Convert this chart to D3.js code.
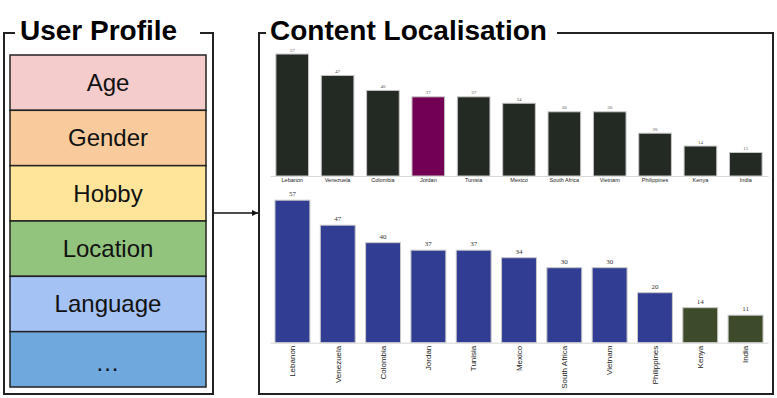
<!DOCTYPE html>
<html>
<head>
<meta charset="utf-8">
<script src="https://cdn.jsdelivr.net/npm/d3@7"></script>
<style>
  body { margin: 0; background: #fff; }
  svg { display: block; font-family: "Liberation Sans", Arial, sans-serif; }
</style>
</head>
<body>
<div id="viz"></div>
<script>
// data
var profileItems = ["Age", "Gender", "Hobby", "Location", "Language", "..."];
var profileColors = ["#f4cccc", "#f9cb9c", "#ffe599", "#93c47d", "#a4c2f4", "#6fa8dc"];

var countries = ["Lebanon", "Venezuela", "Colombia", "Jordan", "Tunisia", "Mexico",
                 "South Africa", "Vietnam", "Philippines", "Kenya", "India"];
var topValues = [57, 47, 40, 37, 37, 34, 30, 30, 20, 14, 11];
var bottomValues = [57, 47, 40, 37, 37, 34, 30, 30, 20, 14, 11];
var topGroup = ["a", "a", "a", "b", "a", "a", "a", "a", "a", "a", "a"];
var bottomGroup = ["a", "a", "a", "a", "a", "a", "a", "a", "a", "b", "b"];

var w = 777, h = 398;

var svg = d3.select("#viz").append("svg")
  .attr("width", w)
  .attr("height", h);

// arrowhead
svg.append("defs").append("marker")
  .attr("id", "arrow")
  .attr("viewBox", "0 0 10 10")
  .attr("refX", 10).attr("refY", 5)
  .attr("markerWidth", 6).attr("markerHeight", 6)
  .attr("markerUnits", "userSpaceOnUse")
  .attr("orient", "auto")
  .append("path")
  .attr("d", "M0,0L10,5L0,10z")
  .attr("fill", "#111");

// a frame with a title cut into its top line
function frame(x0, x1, y0, y1, gapStart, gapEnd, title, tx) {
  var g = svg.append("g");
  g.append("path")
    .attr("d", "M" + gapStart + "," + y0 + "H" + x0 + "V" + y1 + "H" + x1 + "V" + y0 + "H" + gapEnd)
    .attr("fill", "none")
    .attr("stroke", "#222")
    .attr("stroke-width", 2);
  g.append("text")
    .attr("x", tx)
    .attr("y", 40)
    .attr("font-size", 28)
    .attr("font-weight", "bold")
    .attr("fill", "#000")
    .text(title);
}

frame(4, 213, 33, 394, 15, 200, "User Profile", 20);
frame(259, 773, 33, 394, 266, 557, "Content Localisation", 270);

// user profile stack
var rowScale = d3.scaleBand()
  .domain(profileItems)
  .range([55, 387]);

var rows = svg.append("g").selectAll("g")
  .data(profileItems)
  .enter().append("g");

rows.append("rect")
  .attr("x", 10)
  .attr("width", 196)
  .attr("y", function(d) { return rowScale(d); })
  .attr("height", rowScale.bandwidth())
  .attr("fill", function(d, i) { return profileColors[i]; })
  .attr("stroke", "#222")
  .attr("stroke-width", 1.5);

rows.append("text")
  .attr("x", 108)
  .attr("y", function(d) { return rowScale(d) + rowScale.bandwidth() / 2; })
  .attr("dy", function(d) { return d === "..." ? "0.5em" : "0.35em"; })
  .attr("text-anchor", "middle")
  .attr("font-size", 24)
  .attr("fill", "#111")
  .attr("letter-spacing", function(d) { return d === "..." ? 1 : 0; })
  .text(function(d) { return d; });

// arrow between the panels
svg.append("line")
  .attr("x1", 213).attr("x2", 258)
  .attr("y1", 213).attr("y2", 213)
  .attr("stroke", "#111")
  .attr("stroke-width", 1.5)
  .attr("marker-end", "url(#arrow)");

// bar charts
function barChart(opt) {
  var x = d3.scaleBand()
    .domain(countries)
    .range([270, 768])
    .paddingInner(opt.padIn)
    .paddingOuter(opt.padOut);

  var y = d3.scaleLinear()
    .domain([0, 60])
    .range([opt.base, opt.base - 60 * opt.unit]);

  var g = svg.append("g");

  g.selectAll("rect")
    .data(opt.values)
    .enter().append("rect")
    .attr("x", function(d, i) { return x(countries[i]); })
    .attr("width", x.bandwidth())
    .attr("y", function(d) { return y(d); })
    .attr("height", function(d) { return y(0) - y(d); })
    .attr("fill", function(d, i) { return opt.colors[opt.groups[i]]; })
    .attr("stroke", "#c8c8c8")
    .attr("stroke-width", 1);

  g.selectAll("text.val")
    .data(opt.values)
    .enter().append("text")
    .attr("class", "val")
    .attr("x", function(d, i) { return x(countries[i]) + x.bandwidth() / 2; })
    .attr("y", function(d) { return y(d) - opt.valGap; })
    .attr("text-anchor", "middle")
    .style("font-family", "'Liberation Serif', 'DejaVu Serif', serif")
    .attr("font-size", opt.valSize)
    .attr("fill", opt.valColor)
    .text(function(d) { return d; });

  var axis = d3.axisBottom(x).tickSize(0).tickPadding(opt.tickPad);
  var gx = g.append("g")
    .attr("transform", "translate(0," + opt.base + ")")
    .call(axis);
  gx.select(".domain").attr("stroke", "#d8d8d8").attr("stroke-width", 1);
  gx.selectAll("text")
    .attr("font-family", "'Liberation Sans', Arial, sans-serif")
    .attr("font-size", opt.labelSize)
    .attr("fill", "#222");

  if (opt.rotate) {
    gx.selectAll("text")
      .attr("transform", "rotate(-90)")
      .attr("text-anchor", "end")
      .attr("x", -3)
      .attr("y", 0)
      .attr("dy", "0.35em");
  }
}

barChart({
  values: topValues,
  groups: topGroup,
  colors: { a: "#232923", b: "#720053" },
  base: 176,
  unit: 2.14,
  padIn: 0.28,
  padOut: 0.13,
  valSize: 5,
  valGap: 2.5,
  valColor: "#555",
  labelSize: 5.5,
  tickPad: 2,
  rotate: false
});

barChart({
  values: bottomValues,
  groups: bottomGroup,
  colors: { a: "#313d92", b: "#3d4b2a" },
  base: 342.7,
  unit: 2.5,
  padIn: 0.23,
  padOut: 0.11,
  valSize: 7,
  valGap: 4,
  valColor: "#333",
  labelSize: 8,
  tickPad: 2,
  rotate: true
});
</script>
</body>
</html>
